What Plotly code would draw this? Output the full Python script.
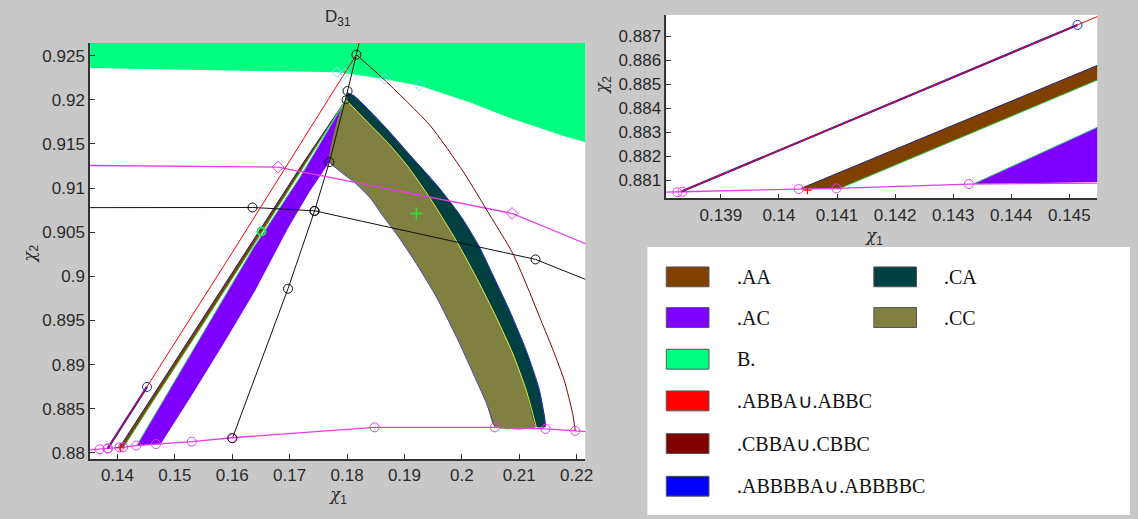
import plotly.graph_objects as go

W, H = 1138, 519

# ---------------- data (chi1, chi2 coordinates) ----------------
# region B. : lower boundary of the green region
gb_x = [0.1340, 0.1500, 0.1680, 0.1784, 0.1860, 0.1928, 0.2015, 0.2089, 0.2176, 0.2230]
gb_y = [0.92362, 0.92345, 0.92324, 0.92310, 0.92240, 0.92155, 0.91969, 0.91781, 0.91593, 0.91493]
gb_top = 0.9280
# cyan diamonds on that boundary
cd_x = [0.17824, 0.17962, 0.18654, 0.19260]
cd_y = [0.92312, 0.92298, 0.92238, 0.92163]

# region .AA (thin brown band)
aa_top_x = [0.14038, 0.14548, 0.15500, 0.16500, 0.17250, 0.17981]
aa_top_y = [0.88066, 0.88579, 0.89530, 0.90540, 0.91300, 0.92000]
aa_bot_x = [0.14101, 0.14548, 0.15500, 0.16500, 0.17250, 0.17981]
aa_bot_y = [0.88062, 0.88518, 0.89470, 0.90480, 0.91250, 0.92000]

# region .AC (purple)
ac_lx = [0.14334, 0.14548, 0.15400, 0.16365, 0.17201, 0.17981]
ac_ly = [0.88084, 0.88321, 0.89258, 0.90320, 0.91144, 0.92000]
ac_rx = [0.14751, 0.15300, 0.15850, 0.16400, 0.16971, 0.17350, 0.17692]
ac_ry = [0.88100, 0.88660, 0.89240, 0.89840, 0.90545, 0.90960, 0.91294]

# region .CC (olive): left boundary from the tip downwards
cc_lx = [0.17981, 0.17692, 0.17893, 0.18152, 0.18412, 0.18614, 0.18872, 0.19218, 0.19564, 0.19910, 0.20201, 0.20431, 0.20574]
cc_ly = [0.92000, 0.91294, 0.91182, 0.91051, 0.90882, 0.90694, 0.90470, 0.90133, 0.89758, 0.89309, 0.88897, 0.88560, 0.88298]
# common boundary .CC / .CA (yellow curve)
yl_x = [0.17981, 0.18300, 0.18701, 0.19046, 0.19450, 0.19911, 0.20257, 0.20603, 0.20891, 0.21123, 0.21296]
yl_y = [0.92000, 0.91785, 0.91519, 0.91256, 0.90882, 0.90396, 0.89983, 0.89534, 0.89121, 0.88710, 0.88298]
# region .CA (dark teal): outer boundary
ca_x = [0.18000, 0.18125, 0.18644, 0.19104, 0.19566, 0.19969, 0.20287, 0.20560, 0.20834, 0.21123, 0.21353, 0.21457]
ca_y = [0.92080, 0.92043, 0.91706, 0.91369, 0.91032, 0.90694, 0.90357, 0.89990, 0.89609, 0.89160, 0.88710, 0.88298]

# .ABBA u .ABBC (red) and .ABBBBA u .ABBBBC (blue)
rd_x = [0.13831, 0.14514, 0.16048, 0.18162]
rd_y = [0.88052, 0.88748, 0.90320, 0.92511]
bl_x = [0.13831, 0.14514]
bl_y = [0.88052, 0.88748]

# .CBBA u .CBBC (maroon)
mr_x = [0.18162, 0.18644, 0.19450, 0.20028, 0.20488, 0.20880, 0.21130, 0.21380, 0.21600, 0.21785, 0.21931, 0.21977]
mr_y = [0.92511, 0.92230, 0.91706, 0.91182, 0.90694, 0.90270, 0.89900, 0.89500, 0.89150, 0.88822, 0.88447, 0.88250]

# lower magenta curve (circle vertices) and its ends
lo_x = [0.13690, 0.13825, 0.13834, 0.14034, 0.14099, 0.14327, 0.14670, 0.15295, 0.15993, 0.18480, 0.20577, 0.21459, 0.21977]
lo_y = [0.88042, 0.88050, 0.88052, 0.88063, 0.88066, 0.88084, 0.88100, 0.88128, 0.88172, 0.88290, 0.88290, 0.88272, 0.88250]
lo_end_x = [0.1340, 0.2230]
lo_end_y = [0.88028, 0.88236]

# upper magenta curve (diamond vertices) and its ends
um_x = [0.16798, 0.20875]
um_y = [0.91238, 0.90713]
um_end_x = [0.1340, 0.2230]
um_end_y = [0.91256, 0.90331]

# black curve, nearly horizontal
bh_x = [0.16352, 0.17433, 0.21284]
bh_y = [0.90780, 0.90742, 0.90192]
bh_end_x = [0.1340, 0.2230]
bh_end_y = [0.90778, 0.89928]

# black curve, steep
bs_x = [0.16002, 0.16971, 0.17433, 0.17692, 0.18009, 0.18162]
bs_y = [0.88166, 0.89860, 0.90739, 0.91294, 0.92099, 0.92511]
bs_end_x = [0.18250]
bs_end_y = [0.92750]

# single markers
tip_x, tip_y = [0.17981], [0.92000]
gc_x, gc_y = [0.16509], [0.90508]
gp_x, gp_y = [0.19208], [0.90712]
rp_x, rp_y = [0.14049], [0.88059]

# axis windows and ticks
MAIN_X = [0.13522, 0.22151]
MAIN_Y = [0.87930, 0.92643]
ZOOM_X = [0.13806, 0.14548]
ZOOM_Y = [0.88024, 0.88790]
main_xt = [0.14, 0.15, 0.16, 0.17, 0.18, 0.19, 0.20, 0.21, 0.22]
main_xl = ["0.14", "0.15", "0.16", "0.17", "0.18", "0.19", "0.2", "0.21", "0.22"]
main_yt = [0.88, 0.885, 0.89, 0.895, 0.90, 0.905, 0.91, 0.915, 0.92, 0.925]
main_yl = ["0.88", "0.885", "0.89", "0.895", "0.9", "0.905", "0.91", "0.915", "0.92", "0.925"]
zoom_xt = [0.139, 0.140, 0.141, 0.142, 0.143, 0.144, 0.145]
zoom_xl = ["0.139", "0.14", "0.141", "0.142", "0.143", "0.144", "0.145"]
zoom_yt = [0.881, 0.882, 0.883, 0.884, 0.885, 0.886, 0.887]
zoom_yl = ["0.881", "0.882", "0.883", "0.884", "0.885", "0.886", "0.887"]

legend_left = [(".AA", "#804000"), (".AC", "#8000ff"), ("B.", "#00ff80"),
               (".ABBA\u222a.ABBC", "#ff0000"), (".CBBA\u222a.CBBC", "#800000"),
               (".ABBBBA\u222a.ABBBBC", "#0000ff")]
legend_right = [(".CA", "#004040"), (".CC", "#808040")]

# ---------------- figure ----------------
MAGENTA = "#e63ee6"
fig = go.Figure()


def poly(xs, ys, color, xa, ya, shape="linear"):
    fig.add_trace(go.Scatter(x=xs, y=ys, fill="toself", fillcolor=color, mode="lines",
                             line=dict(width=0, shape=shape, smoothing=0.6),
                             xaxis=xa, yaxis=ya, hoverinfo="skip"))


def line(xs, ys, color, width, xa, ya, shape="linear"):
    fig.add_trace(go.Scatter(x=xs, y=ys, mode="lines",
                             line=dict(color=color, width=width, shape=shape, smoothing=0.6),
                             xaxis=xa, yaxis=ya, hoverinfo="skip"))


def marks(xs, ys, symbol, color, size, xa, ya, width=1):
    fig.add_trace(go.Scatter(x=xs, y=ys, mode="markers",
                             marker=dict(symbol=symbol, size=size, color=color,
                                         line=dict(color=color, width=width)),
                             xaxis=xa, yaxis=ya, hoverinfo="skip"))


def scene(xa, ya):
    # filled regions
    poly(gb_x + [gb_x[-1], gb_x[0]], gb_y + [gb_top, gb_top], "#00ff80", xa, ya)
    poly(ac_lx + cc_lx[1:2] + ac_rx[::-1], ac_ly + cc_ly[1:2] + ac_ry[::-1], "#8000ff", xa, ya)
    poly(aa_top_x + aa_bot_x[::-1], aa_top_y + aa_bot_y[::-1], "#804000", xa, ya)
    poly(cc_lx + yl_x[::-1], cc_ly + yl_y[::-1], "#808040", xa, ya, "spline")
    poly(yl_x + ca_x[::-1], yl_y + ca_y[::-1], "#004040", xa, ya, "spline")
    # region edges
    line(cc_lx[1:], cc_ly[1:], "#4848b8", 1, xa, ya, "spline")
    line(ca_x, ca_y, "#2030c0", 1, xa, ya, "spline")
    line(yl_x, yl_y, "#e8e830", 1, xa, ya, "spline")
    line(aa_top_x, aa_top_y, "#202080", 1, xa, ya)
    line(aa_bot_x, aa_bot_y, "#30c030", 1, xa, ya)
    line(ac_lx, ac_ly, "#40d080", 1, xa, ya)
    # curves
    line(bs_x + bs_end_x, bs_y + bs_end_y, "#111111", 1, xa, ya)
    line(bh_end_x[:1] + bh_x + bh_end_x[1:], bh_end_y[:1] + bh_y + bh_end_y[1:], "#111111", 1, xa, ya)
    line(um_end_x[:1] + um_x + um_end_x[1:], um_end_y[:1] + um_y + um_end_y[1:], MAGENTA, 1.3, xa, ya)
    line(lo_end_x[:1] + lo_x + lo_end_x[1:], lo_end_y[:1] + lo_y + lo_end_y[1:], MAGENTA, 1.3, xa, ya)
    line(mr_x, mr_y, "#800000", 1, xa, ya, "spline")
    line(bl_x, bl_y, "#1818c0", 2.2, xa, ya)
    line(rd_x, rd_y, "#ff0000", 1, xa, ya)
    # markers
    marks(cd_x, cd_y, "diamond-open", "#7fd8ff", 8, xa, ya)
    marks(um_x, um_y, "diamond-open", MAGENTA, 9, xa, ya)
    marks(lo_x, lo_y, "circle-open", MAGENTA, 9, xa, ya)
    marks(bh_x, bh_y, "circle-open", "#111111", 9, xa, ya)
    marks(bs_x, bs_y, "circle-open", "#111111", 9, xa, ya)
    marks(tip_x, tip_y, "circle-open", "#222222", 8, xa, ya)
    marks(bl_x[-1:], bl_y[-1:], "circle-open", "#2828b0", 9, xa, ya)
    marks(gc_x, gc_y, "circle-open", "#30e060", 8, xa, ya, 2)
    marks(gp_x, gp_y, "cross-thin-open", "#30e030", 9, xa, ya, 1.5)
    marks(rp_x, rp_y, "cross-thin-open", "#ff0000", 6, xa, ya, 1.2)


scene("x", "y")
scene("x2", "y2")

axis_style = dict(showgrid=False, zeroline=False, showline=True, linecolor="#333333", linewidth=1.5,
                  ticks="inside", ticklen=5, tickcolor="#333333", mirror=False,
                  tickfont=dict(family="Liberation Sans, Arial", size=17, color="#2a2a2a"))


def ppx(x):
    return x / W


def ppy(y):
    return 1 - y / H


fig.update_layout(
    width=W, height=H, autosize=False,
    margin=dict(l=0, r=0, t=0, b=0),
    paper_bgcolor="#c8c8c8", plot_bgcolor="#ffffff",
    showlegend=False,
    xaxis=dict(domain=[ppx(90.7), ppx(589.4)], range=MAIN_X, anchor="y",
               tickvals=main_xt, ticktext=main_xl, **axis_style),
    yaxis=dict(domain=[ppy(462.7), ppy(43.3)], range=MAIN_Y, anchor="x",
               tickvals=main_yt, ticktext=main_yl, **axis_style),
    xaxis2=dict(domain=[ppx(671), ppx(1105)], range=ZOOM_X, anchor="y2",
                tickvals=zoom_xt, ticktext=zoom_xl, **axis_style),
    yaxis2=dict(domain=[ppy(200), ppy(15)], range=ZOOM_Y, anchor="x2",
                tickvals=zoom_yt, ticktext=zoom_yl, **axis_style),
)

# legend panel
shapes = [dict(type="rect", xref="paper", yref="paper", x0=ppx(652), x1=1, y0=0, y1=ppy(249),
               fillcolor="#ffffff", line=dict(width=0), layer="below")]
annotations = []
LFONT = dict(family="Liberation Serif, Times New Roman", size=20, color="#111111")
rows = [279, 320, 362, 404, 447, 490]
for (label, color), yc in zip(legend_left, rows):
    shapes.append(dict(type="rect", xref="paper", yref="paper", x0=ppx(671), x1=ppx(714),
                       y0=ppy(yc + 10), y1=ppy(yc - 10), fillcolor=color,
                       line=dict(color="#555555", width=1)))
    annotations.append(dict(text=label, x=ppx(740), y=ppy(yc), xref="paper", yref="paper",
                            xanchor="left", yanchor="middle", showarrow=False, font=LFONT))
for (label, color), yc in zip(legend_right, rows):
    shapes.append(dict(type="rect", xref="paper", yref="paper", x0=ppx(880), x1=ppx(923),
                       y0=ppy(yc + 10), y1=ppy(yc - 10), fillcolor=color,
                       line=dict(color="#555555", width=1)))
    annotations.append(dict(text=label, x=ppx(949), y=ppy(yc), xref="paper", yref="paper",
                            xanchor="left", yanchor="middle", showarrow=False, font=LFONT))

AFONT = dict(family="Liberation Sans, Arial", size=17, color="#2a2a2a")
CHI1 = '<span style="font-family:DejaVu Serif"><i>\u03c7</i></span><sub>1</sub>'
CHI2 = '<span style="font-family:DejaVu Serif"><i>\u03c7</i></span><sub>2</sub>'
annotations += [
    dict(text="D<sub>31</sub>", x=ppx(340), y=ppy(18), xref="paper", yref="paper",
         showarrow=False, font=AFONT, xanchor="center", yanchor="middle"),
    dict(text=CHI1, x=ppx(340), y=ppy(499), xref="paper", yref="paper",
         showarrow=False, font=AFONT, xanchor="center", yanchor="middle"),
    dict(text=CHI2, x=ppx(30), y=ppy(256), xref="paper", yref="paper",
         showarrow=False, font=AFONT, xanchor="center", yanchor="middle", textangle=-90),
    dict(text=CHI1, x=ppx(880), y=ppy(238), xref="paper", yref="paper",
         showarrow=False, font=AFONT, xanchor="center", yanchor="middle"),
    dict(text=CHI2, x=ppx(607), y=ppy(86), xref="paper", yref="paper",
         showarrow=False, font=AFONT, xanchor="center", yanchor="middle", textangle=-90),
]
fig.update_layout(shapes=shapes, annotations=annotations)

fig.write_html("out.html")
